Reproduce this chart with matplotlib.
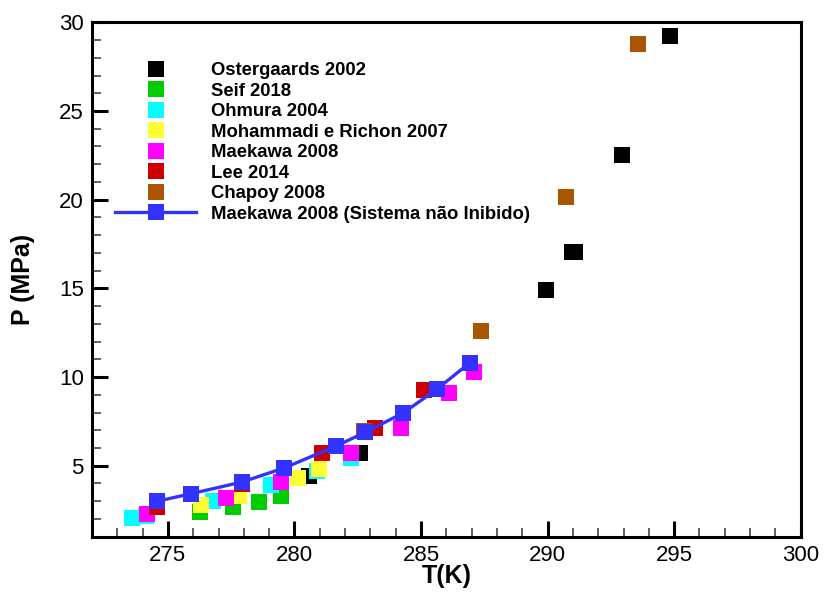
import matplotlib
matplotlib.use("Agg")
import matplotlib.pyplot as plt
from matplotlib.ticker import MultipleLocator

plt.rcParams['font.family'] = ['Liberation Sans', 'DejaVu Sans']

# Hydrate equilibrium data: temperature (K) and pressure (MPa)
ostergaards_T = [280.59, 282.60, 289.93, 290.95, 291.10, 292.93, 294.83]
ostergaards_P = [4.41, 5.73, 14.92, 17.05, 17.05, 22.53, 29.24]

seif_T = [276.27, 277.59, 278.61, 279.48]
seif_P = [2.40, 2.69, 2.97, 3.29]

ohmura_T = [273.59, 274.13, 276.80, 279.09, 280.90, 282.23]
ohmura_P = [2.07, 2.16, 3.00, 3.91, 4.69, 5.45]

mohammadi_T = [276.30, 277.80, 280.15, 280.98]
mohammadi_P = [2.78, 3.31, 4.32, 4.79]

maekawa_T = [274.19, 277.31, 279.48, 282.23, 284.21, 286.12, 287.11]
maekawa_P = [2.28, 3.19, 4.09, 5.72, 7.11, 9.11, 10.30]

lee_T = [274.58, 277.92, 281.10, 283.19, 285.10]
lee_P = [2.69, 3.96, 5.73, 7.14, 9.28]

chapoy_T = [282.76, 287.38, 290.74, 293.56]
chapoy_P = [6.95, 12.60, 20.16, 28.78]

maekawa_free_T = [274.58, 275.90, 277.92, 279.60, 281.63, 282.80, 284.30, 285.62, 286.92]
maekawa_free_P = [3.00, 3.42, 4.08, 4.88, 6.10, 6.89, 7.98, 9.31, 10.80]

series = [
    ("Ostergaards 2002", ostergaards_T, ostergaards_P, "#000000"),
    ("Seif 2018", seif_T, seif_P, "#00cc00"),
    ("Ohmura 2004", ohmura_T, ohmura_P, "#00ffff"),
    ("Mohammadi e Richon 2007", mohammadi_T, mohammadi_P, "#ffff33"),
    ("Maekawa 2008", maekawa_T, maekawa_P, "#ff00ff"),
    ("Lee 2014", lee_T, lee_P, "#cc0000"),
    ("Chapoy 2008", chapoy_T, chapoy_P, "#aa5500"),
]

fig = plt.figure(figsize=(8.24, 5.94), dpi=100)
ax = fig.add_axes([92 / 824, 57.3 / 594, 708.7 / 824, 514.4 / 594])

for label, T, P, color in series:
    ax.plot(T, P, ls='none', marker='s', markersize=12, color=color,
            markeredgewidth=0, label=label)

ax.plot(maekawa_free_T, maekawa_free_P, '-', color='#3333ff', lw=2.4,
        marker='s', markersize=12, markeredgewidth=0,
        label="Maekawa 2008 (Sistema não Inibido)")

ax.set_xlim(272, 300)
ax.set_ylim(1, 30)
ax.xaxis.set_major_locator(MultipleLocator(5))
ax.xaxis.set_minor_locator(MultipleLocator(1))
ax.set_yticks([5, 10, 15, 20, 25, 30])
ax.yaxis.set_minor_locator(MultipleLocator(1))

ax.tick_params(which='both', direction='in', top=False, right=False)
ax.tick_params(which='major', length=11.5, width=2.2, labelsize=16, pad=6, color='black')
ax.tick_params(which='minor', length=6.8, width=1.2, color='#444444')
for sp in ax.spines.values():
    sp.set_linewidth(2.2)

ax.set_xlabel("T(K)", fontsize=18, fontweight='bold', va='center')
ax.xaxis.set_label_coords(0.5005, -0.0764)
ax.set_ylabel("P (MPa)", fontsize=18, fontweight='bold', va='center')
ax.yaxis.set_label_coords((23.3 - 92) / 708.7, 0.5)

ax.legend(loc='upper left', bbox_to_anchor=(115 / 824, 1 - 62.3 / 594),
          bbox_transform=fig.transFigure, frameon=False, borderpad=0,
          borderaxespad=0, handlelength=4.4, handletextpad=0.81,
          labelspacing=0.19, prop={'weight': 'bold', 'size': 13.3})

fig.savefig("out.png", dpi=100)
